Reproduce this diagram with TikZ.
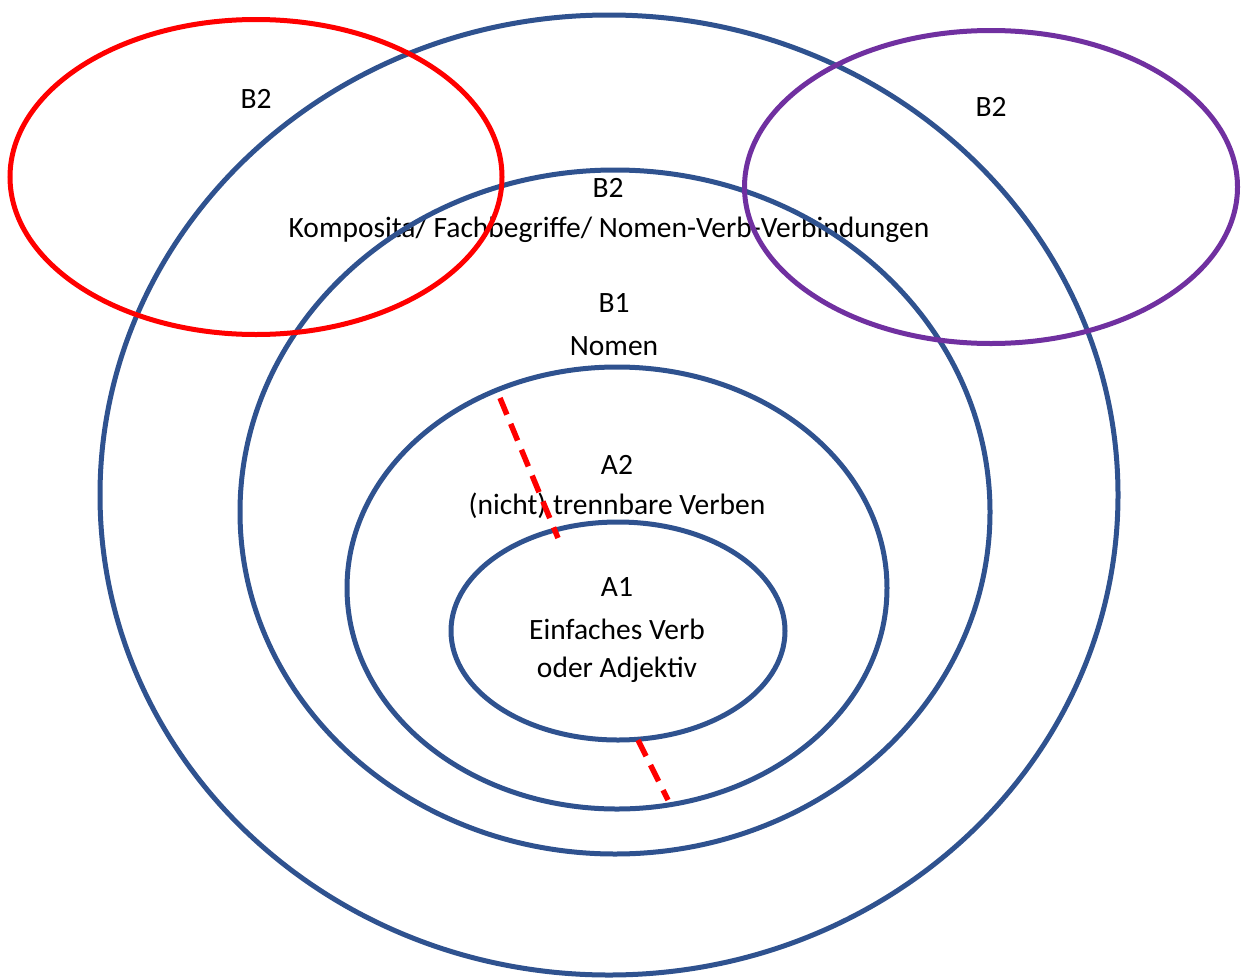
\documentclass[tikz,border=0pt]{standalone}
\usepackage{fontspec}
\setmainfont{Carlito}
\usetikzlibrary{shapes.geometric}
\definecolor{navy}{HTML}{2F528F}
\definecolor{vio}{HTML}{7030A0}
\begin{document}
\begin{tikzpicture}[x=1pt,y=-1pt,
  ring/.style={draw=navy,line width=5pt,ellipse,inner sep=0pt},
  lab/.style={font=\fontsize{29.5}{33}\selectfont,inner sep=0pt,anchor=center},
  cut/.style={draw=red,line width=5.5pt,dash pattern=on 18pt off 10pt}]
\useasboundingbox (0,0) rectangle (1244,977);
% texts
\node[lab] (t1) at (256,99) {B2};
\node[lab] (t2) at (991,107) {B2};
\node[lab] (t3) at (608,188) {B2};
\node[lab] (t4) at (609,230) {Komposita/ Fachbegriffe/ Nomen-Verb-Verbindungen};
\node[lab] (t5) at (614,303) {B1};
\node[lab] (t6) at (614,346) {Nomen};
\node[lab] (t7) at (617,465) {A2};
\node[lab] (t8) at (617,506) {(nicht) trennbare Verben};
\node[lab] (t9) at (617,587) {A1};
\node[lab] (t10) at (617,629) {Einfaches Verb};
\node[lab] (t11) at (617,670) {oder Adjektiv};
% rings
\node[ring,minimum width=1018pt,minimum height=960pt] (e1) at (609,495) {};
\node[ring,minimum width=750pt,minimum height=684pt] (e2) at (615,512) {};
\node[ring,minimum width=540pt,minimum height=442pt] (e3) at (617,588) {};
\node[ring,minimum width=334pt,minimum height=218pt] (e4) at (618,631) {};
\node[ring,draw=red,minimum width=492pt,minimum height=315pt] (r) at (256,177) {};
\node[ring,draw=vio,minimum width=493pt,minimum height=313pt] (p) at (991,187) {};
% dashed cuts
\coordinate (c1) at (500,398);
\coordinate (c2) at (558,538);
\coordinate (c3) at (638,740);
\coordinate (c4) at (668,800);
\draw[cut] (c1) -- (c2);
\draw[cut] (c3) -- (c4);
\end{tikzpicture}
\end{document}
